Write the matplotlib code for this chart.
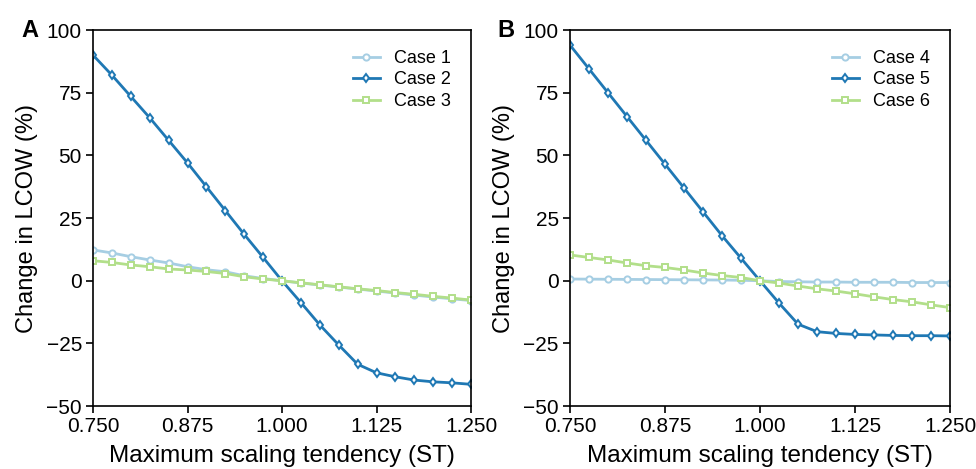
import numpy as np
import matplotlib.pyplot as plt

plt.rcParams['font.family'] = ['Liberation Sans', 'DejaVu Sans']

st = [0.750, 0.775, 0.800, 0.825, 0.850, 0.875, 0.900, 0.925, 0.950, 0.975, 1.000,
      1.025, 1.050, 1.075, 1.100, 1.125, 1.150, 1.175, 1.200, 1.225, 1.250]

# Panel A
case1 = [12.3, 11.1, 9.6, 8.3, 7.1, 5.6, 4.4, 3.6, 2.0, 0.9, 0.0,
         -0.9, -1.7, -2.5, -3.3, -4.1, -4.9, -5.7, -6.5, -7.2, -7.9]
case2 = [90.0, 82.0, 73.5, 65.0, 56.0, 47.0, 37.5, 28.0, 18.5, 9.3, 0.0,
         -8.7, -17.6, -25.6, -33.3, -36.7, -38.3, -39.6, -40.3, -40.7, -41.3]
case3 = [8.0, 7.3, 6.3, 5.6, 4.7, 4.3, 3.7, 2.9, 1.6, 0.7, 0.0,
         -0.8, -1.6, -2.4, -3.2, -3.9, -4.7, -5.4, -6.2, -6.9, -7.7]

# Panel B
case4 = [0.7, 0.65, 0.6, 0.55, 0.5, 0.45, 0.4, 0.35, 0.3, 0.2, 0.0,
         -0.3, -0.4, -0.5, -0.5, -0.6, -0.6, -0.6, -0.7, -0.7, -0.7]
case5 = [94.0, 84.5, 75.0, 65.5, 56.0, 46.5, 37.0, 27.5, 18.0, 9.0, 0.0,
         -8.9, -17.3, -20.3, -21.0, -21.4, -21.6, -21.8, -21.9, -21.9, -22.0]
case6 = [10.3, 9.3, 8.3, 7.1, 6.0, 5.3, 4.3, 3.1, 2.1, 1.3, 0.0,
         -0.9, -2.1, -3.2, -4.1, -5.2, -6.4, -7.5, -8.4, -9.6, -10.7]

xticks = [0.750, 0.875, 1.000, 1.125, 1.250]
yticks = [-50, -25, 0, 25, 50, 75, 100]

colors = ['#a6cee3', '#1f78b4', '#b2df8a']
markers = ['o', 'd', 's']

fig = plt.figure(figsize=(9.76, 4.69), dpi=100)
axA = fig.add_axes([0.0953, 0.134, 0.3873, 0.802])
axB = fig.add_axes([0.584, 0.134, 0.3894, 0.802])

panels = [
    (axA, 'A', [case1, case2, case3], ['Case 1', 'Case 2', 'Case 3']),
    (axB, 'B', [case4, case5, case6], ['Case 4', 'Case 5', 'Case 6']),
]

for ax, tag, series, names in panels:
    for vals, name, c, m in zip(series, names, colors, markers):
        ax.plot(st, vals, color=c, marker=m, markersize=4.5,
                markerfacecolor='white', markeredgewidth=1.4,
                linewidth=2, label=name)
    ax.set_xlim(0.75, 1.25)
    ax.set_ylim(-50, 100)
    ax.set_xticks(xticks)
    ax.set_xticklabels(['%.3f' % t for t in xticks])
    ax.set_yticks(yticks)
    ax.tick_params(labelsize=15, width=1.2, length=5, pad=3)
    for s in ax.spines.values():
        s.set_linewidth(1.2)
    ax.set_xlabel('Maximum scaling tendency (ST)', fontsize=17.5, labelpad=6)
    ax.set_ylabel('Change in LCOW (%)', fontsize=17, labelpad=6)
    ax.legend(loc='upper right', frameon=False, fontsize=13,
              handlelength=1.5, borderaxespad=0.7, labelspacing=0.25)
    ax.text(-0.19, 1.0, tag, transform=ax.transAxes, fontsize=17,
            fontweight='bold', va='center', ha='left')

fig.savefig('out.png', dpi=100)
